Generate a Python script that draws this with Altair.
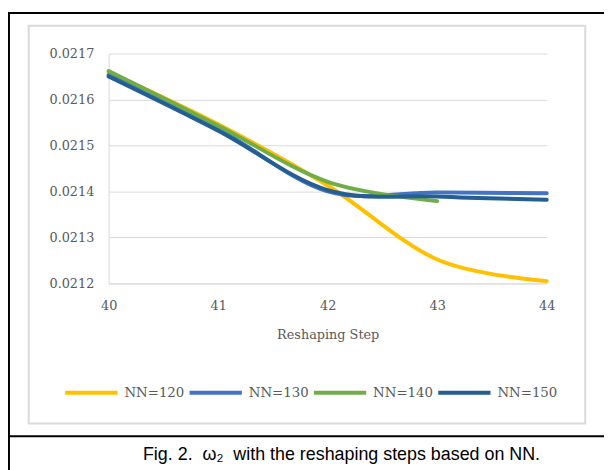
import altair as alt
import pandas as pd

steps = [40, 41, 42, 43, 44]
steps_140 = [40, 41, 42, 43]
nn120 = [0.021659, 0.021546, 0.021413, 0.021252, 0.021205]
nn130 = [0.021653, 0.021536, 0.021400, 0.021398, 0.021396]
nn140 = [0.021662, 0.021543, 0.021421, 0.021379]
nn150 = [0.021650, 0.021532, 0.021403, 0.021389, 0.021382]

series_names = ["NN=120", "NN=130", "NN=140", "NN=150"]
series_colors = ["#FFC000", "#4472C4", "#70AD47", "#255E91"]
y_ticks = [0.0212, 0.0213, 0.0214, 0.0215, 0.0216, 0.0217]
caption = "Fig.\u00a02.\u00a0\u00a0\u03c9\u2082\u00a0\u00a0with the reshaping steps based on NN."

rows = []
for name, xs, ys in [("NN=120", steps, nn120), ("NN=130", steps, nn130),
                     ("NN=140", steps_140, nn140), ("NN=150", steps, nn150)]:
    for s, v in zip(xs, ys):
        rows.append({"step": s, "value": v, "series": name})
df = pd.DataFrame(rows)

one = pd.DataFrame({"k": [0]})

W, H = 444, 233

lines = alt.Chart(df).mark_line(
    interpolate="cardinal", tension=0, strokeWidth=4, strokeCap="round"
).encode(
    x=alt.X("step:Q", scale=alt.Scale(domain=[40, 44]),
            axis=alt.Axis(values=steps, format="d", title="Reshaping Step",
                          grid=False, ticks=False, tickSize=0, labelPadding=16,
                          labelFlush=False, titlePadding=17)),
    y=alt.Y("value:Q", scale=alt.Scale(domain=[0.0212, 0.0217]),
            axis=alt.Axis(values=y_ticks, format=".4f", title=None,
                          ticks=False, tickSize=0, labelPadding=15)),
    color=alt.Color("series:N",
                    scale=alt.Scale(domain=series_names, range=series_colors),
                    legend=alt.Legend(title=None, orient="none", legendX=-46, legendY=315,
                                      direction="horizontal", symbolType="stroke",
                                      symbolSize=2809, symbolStrokeWidth=4,
                                      labelOffset=5, columnPadding=-3)),
)

grey_frame = alt.Chart(one).mark_rect(fill="transparent", stroke="#d9d9d9", strokeWidth=2).encode(
    x=alt.value(-81), x2=alt.value(483), y=alt.value(-28), y2=alt.value(375)
)
black_top = alt.Chart(one).mark_rule(color="black", strokeWidth=2).encode(
    x=alt.value(-102), x2=alt.value(510), y=alt.value(-41)
)
black_mid = alt.Chart(one).mark_rule(color="black", strokeWidth=2).encode(
    x=alt.value(-102), x2=alt.value(510), y=alt.value(388)
)
black_left = alt.Chart(one).mark_rule(color="black", strokeWidth=2).encode(
    x=alt.value(-101), y=alt.value(-42), y2=alt.value(430)
)
cap = alt.Chart(one).mark_text(
    text=caption, font="Liberation Sans", fontSize=18.1, color="black",
    align="center", baseline="alphabetic"
).encode(x=alt.value(236), y=alt.value(412))

chart = alt.layer(grey_frame, black_top, black_mid, black_left, lines, cap).properties(
    width=W, height=H,
    autosize=alt.AutoSizeParams(type="none"),
    padding={"left": 102, "top": 43, "right": 58, "bottom": 186},
).configure_view(stroke=None).configure_axis(
    labelFont="DejaVu Serif", labelFontSize=13, labelColor="#595959",
    titleFont="DejaVu Serif", titleFontSize=13, titleColor="#595959", titleFontWeight="normal",
    gridColor="#d9d9d9", gridWidth=1, domainColor="#d9d9d9", domainWidth=1,
).configure_legend(
    labelFont="DejaVu Serif", labelFontSize=13.5, labelColor="#595959"
)

chart.save("out.html", embed_options={"renderer": "svg", "actions": False})
